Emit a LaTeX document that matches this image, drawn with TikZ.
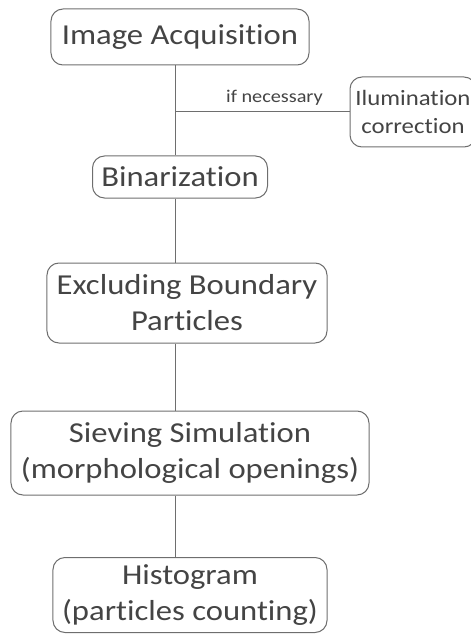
\documentclass[tikz,border=0pt]{standalone}
\usepackage{fontspec}
\setmainfont[FakeStretch=1.13, Ligatures=NoCommon]{Carlito}
\usepackage{xcolor}
\usetikzlibrary{positioning, calc}
\definecolor{linegray}{HTML}{6E6E6E}
\definecolor{textgray}{HTML}{444444}

\begin{document}
\begin{tikzpicture}[
    x=1bp, y=-1bp,
    stage/.style={draw=linegray, line width=1bp, rounded corners=12bp,
                  align=center, text=textgray, inner sep=0pt,
                  font=\fontsize{29}{36}\selectfont},
    link/.style={draw=linegray, line width=1bp},
  ]
  \useasboundingbox (0,0) rectangle (471,637);

  \node[stage, minimum width=258bp, minimum height=56bp] (acq) at (180,37) {Image Acquisition};
  \node[stage, minimum width=126bp, minimum height=70bp,
        font=\fontsize{22}{28}\selectfont] (illum) at (413,112) {Ilumination\\correction};
  \node[stage, minimum width=175bp, minimum height=42bp] (bin) at (180,177) {Binarization};
  \node[stage, minimum width=280bp, minimum height=80bp] (excl) at (187,303) {Excluding Boundary\\Particles};
  \node[stage, minimum width=358bp, minimum height=84bp] (sieve) at (190,453) {Sieving Simulation\\(morphological openings)};
  \node[stage, minimum width=274bp, minimum height=75bp] (hist) at (190,595) {Histogram\\(particles counting)};

  \coordinate (j) at (175,112);

  \draw[link] (acq.south -| j) -- (bin.north -| j);
  \draw[link] (j) -- (illum.west)
    node[pos=0.57, above=3bp, text=textgray, font=\fontsize{18}{21}\selectfont] (ifn) {if necessary};
  \draw[link] (bin.south -| j) -- (excl.north -| j);
  \draw[link] (excl.south -| j) -- (sieve.north -| j);
  \draw[link] (sieve.south -| j) -- (hist.north -| j);
\end{tikzpicture}
\end{document}
